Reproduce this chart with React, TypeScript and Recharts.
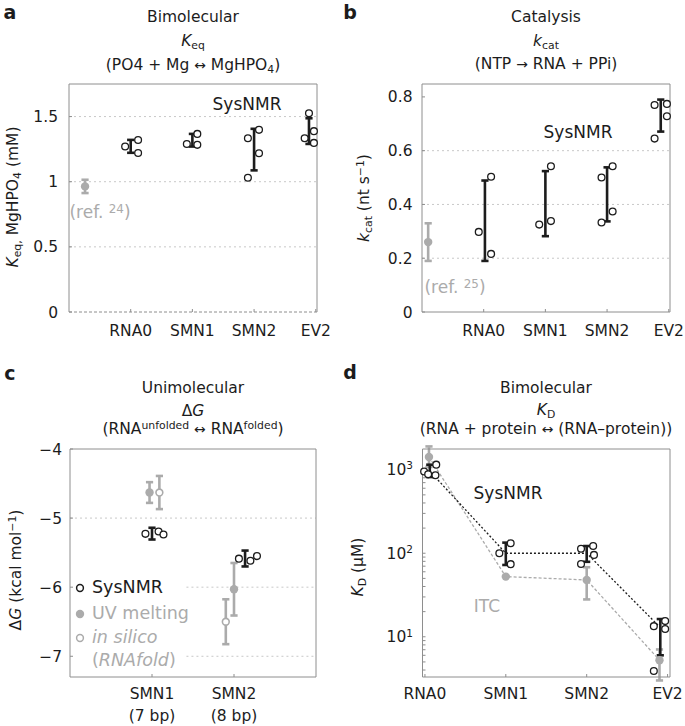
import React from "react";
import { ComposedChart, Scatter, XAxis, YAxis, ErrorBar, ReferenceLine } from "recharts";

const FONT = '"DejaVu Sans", "Liberation Sans", Arial, sans-serif';
const INK = "#1c1c1c";
const GREY = "#ababab";
const FRAME = "#8e8e8e";
const GRID = "#c8c8c8";
const TICK_PX = 15.5;

// a — MgHPO4 equilibrium constant (mM)
const keqCats = ["RNA0", "SMN1", "SMN2", "EV2"];
const keqReps = [
  [1.27, 1.32, 1.22],
  [1.29, 1.367, 1.283],
  [1.334, 1.398, 1.219, 1.031],
  [1.526, 1.388, 1.334, 1.298],
];
const keqLo = [1.222, 1.27, 1.087, 1.29];
const keqHi = [1.321, 1.367, 1.406, 1.487];
const keqLit = { mid: 0.964, lo: 0.913, hi: 1.015 };
const keqTicks = [0, 0.5, 1, 1.5];
const keqGrid = [0.5, 1, 1.5];

// b — polymerase kcat (nt/s)
const kcatReps = [
  [0.298, 0.503, 0.216],
  [0.325, 0.338, 0.542],
  [0.5, 0.333, 0.374, 0.542],
  [0.77, 0.645, 0.774, 0.728],
];
const kcatLo = [0.19, 0.282, 0.337, 0.671];
const kcatHi = [0.489, 0.524, 0.538, 0.79];
const kcatLit = { mid: 0.26, lo: 0.19, hi: 0.33 };
const kcatTicks = [0, 0.2, 0.4, 0.6, 0.8];
const kcatGrid = [0.2, 0.4, 0.6];

// c — folding free energy (kcal/mol)
const dgCats = ["SMN1", "SMN2"];
const dgBp = ["(7 bp)", "(8 bp)"];
const dgReps = [
  [-5.228, -5.194, -5.238],
  [-5.587, -5.617, -5.55],
];
const dgLo = [-5.31, -5.7];
const dgHi = [-5.14, -5.47];
const uvMid = [-4.63, -6.03];
const uvErr = [0.15, 0.38];
const foldMid = [-4.63, -6.5];
const foldErr = [0.24, 0.325];
const dgTicks = [-7, -6, -5, -4];

// d — RNA–protein KD (µM)
const kdCats = ["RNA0", "SMN1", "SMN2", "EV2"];
const kdReps = [
  [950, 880, 1150, 860],
  [100, 132, 74],
  [113, 74.5, 122, 95.5],
  [13.4, 15.4, 12.4, 3.9],
];
const kdLo = [817, 72.4, 79, 6.0];
const kdHi = [1148, 134, 122, 16.3];
const kdMean = [960, 100, 100, 12.9];
const itcMid = [1420, 52.5, 47.9, 5.25];
const itcLo = [1080, 52.5, 28, 3.0];
const itcHi = [1900, 52.5, 68, 7.05];
const kdTicks = [4, 5, 6, 7, 8, 9, 10, 20, 30, 40, 50, 60, 70, 80, 90, 100, 200, 300, 400, 500, 600, 700, 800, 900, 1000];

// placement along x: category n sits at x = n, replicates are nudged sideways
const keqX = [1, 2, 3, 3.89];
const keqDx = [[-0.09, 0.12, 0.12], [-0.09, 0.08, 0.08], [-0.1, 0.08, 0.08, -0.1], [0, 0.08, -0.07, 0.08]];
const keqLitX = 0.26;
const kcatX = [1.02, 2, 3, 3.87];
const kcatDx = [[-0.1, 0.1, 0.1], [-0.1, 0.09, 0.09], [-0.09, -0.09, 0.09, 0.09], [-0.1, -0.1, 0.1, 0.1]];
const kcatLitX = 0.1;
const dgX = [1, 2.135];
const dgDx = [[-0.08, 0.08, 0.14], [-0.075, 0.065, 0.145]];
const uvX = [0.97, 2];
const foldX = [1.09, 1.9];
const kdX = [1.06, 2, 3, 3.91];
const kdDx = [[-0.07, -0.02, 0.08, 0.07], [-0.08, 0.06, 0.06], [-0.07, -0.07, 0.08, 0.09], [-0.08, 0.06, 0.06, -0.08]];
const itcX = [1.05, 2, 3, 3.9];

type Pt = { x: number; y: number; err?: number[] };

const replicates = (vals: number[][], xs: number[], dx: number[][]): Pt[] =>
  vals.flatMap((row, i) => row.map((v, j) => ({ x: xs[i] + dx[i][j], y: v })));

const rangeBars = (lo: number[], hi: number[], xs: number[]): Pt[] =>
  lo.map((l, i) => {
    const m = (l + hi[i]) / 2;
    return { x: xs[i], y: m, err: [m - l, hi[i] - m] };
  });

const symBars = (mid: number[], err: number[], xs: number[]): Pt[] =>
  mid.map((m, i) => ({ x: xs[i], y: m, err: [err[i], err[i]] }));

const points = (ys: number[], xs: number[]): Pt[] => ys.map((y, i) => ({ x: xs[i], y }));

const noMark = () => <g />;
const ring = (color: string, w = 1.3) => (p: any) => (
  <circle cx={p.cx} cy={p.cy} r={3.4} fill="#fff" stroke={color} strokeWidth={w} />
);
const disc = (color: string) => (p: any) => <circle cx={p.cx} cy={p.cy} r={4.2} fill={color} />;

const frameLine = { stroke: FRAME, strokeWidth: 1 };
const tickFont = { fontSize: TICK_PX, fill: INK, fontFamily: FONT };

const errorBars = (key: string, data: Pt[], color: string) => (
  <Scatter key={key} data={data} shape={noMark} isAnimationActive={false}>
    <ErrorBar dataKey="err" direction="y" width={3.6} stroke={color} strokeWidth={2.6} isAnimationActive={false} />
  </Scatter>
);

// top and right edges of the box, with inward ticks
const frameAxes = (xDomain: number[], xTicks: number[], yDomain: number[], yTicks: number[], log = false) => [
  <XAxis key="fx" xAxisId="frame" orientation="top" type="number" domain={xDomain} ticks={xTicks} interval={0}
    tick={false} height={1} tickSize={-3} axisLine={frameLine} tickLine={frameLine} allowDataOverflow />,
  <YAxis key="fy" yAxisId="frame" orientation="right" type="number" scale={log ? "log" : "auto"} domain={yDomain}
    ticks={yTicks} interval={0} tick={false} width={1} tickSize={-3} axisLine={frameLine} tickLine={frameLine} allowDataOverflow />,
];

const minusFmt = (v: number) => (v < 0 ? "\u2212" + -v : String(v));

const bpTick = (p: any) => {
  const i = p.payload.value - 1;
  return (
    <text x={p.x} y={p.y} textAnchor="middle" fontSize={TICK_PX} fill={INK} fontFamily={FONT}>
      <tspan x={p.x} dy="0.71em">{dgCats[i]}</tspan>
      <tspan x={p.x} dy="1.45em">{dgBp[i]}</tspan>
    </text>
  );
};

const decadeTick = (p: any) => {
  const e = Math.log10(p.payload.value);
  if (Math.abs(e - Math.round(e)) > 1e-9) return <g />;
  return (
    <text x={p.x} y={p.y} dy="0.355em" textAnchor="end" fontSize={TICK_PX} fill={INK} fontFamily={FONT}>
      10<tspan dy="-0.55em" fontSize={10.5}>{Math.round(e)}</tspan>
    </text>
  );
};

const Sub = ({ children }: { children: React.ReactNode }) => (
  <span style={{ fontSize: "0.7em", position: "relative", top: "0.32em" }}>{children}</span>
);
const Sup = ({ children }: { children: React.ReactNode }) => (
  <span style={{ fontSize: "0.7em", position: "relative", top: "-0.45em" }}>{children}</span>
);
const Arrow = ({ children }: { children: React.ReactNode }) => <span style={{ fontSize: "0.9em" }}>{children}</span>;

type TxtProps = {
  x: number;
  y: number;
  size?: number;
  color?: string;
  anchor?: "start" | "middle";
  rotate?: boolean;
  bold?: boolean;
  children: React.ReactNode;
};

function Txt({ x, y, size = 15.5, color = INK, anchor = "middle", rotate = false, bold = false, children }: TxtProps) {
  const shift = anchor === "middle" ? "-50%" : "0";
  const transform = rotate ? "translate(-50%, -50%) rotate(-90deg)" : `translate(${shift}, -50%)`;
  return (
    <div style={{ position: "absolute", left: x, top: y, transform, fontSize: size, lineHeight: 1, color, whiteSpace: "nowrap", fontWeight: bold ? 700 : 400 }}>
      {children}
    </div>
  );
}

const Dot = ({ x, y, filled, color }: { x: number; y: number; filled: boolean; color: string }) => (
  <svg width={12} height={12} style={{ position: "absolute", left: x - 6, top: y - 6 }}>
    {filled ? <circle cx={6} cy={6} r={4.2} fill={color} /> : <circle cx={6} cy={6} r={3.4} fill="#fff" stroke={color} strokeWidth={1.5} />}
  </svg>
);

function Panel({ left, top, width, height, margin, children }: any) {
  return (
    <div style={{ position: "absolute", left, top }}>
      <ComposedChart width={width} height={height} margin={margin}>
        {children}
      </ComposedChart>
    </div>
  );
}

export default function App() {
  const catName = (v: number) => keqCats[v - 1] ?? "";
  return (
    <div style={{ position: "relative", width: 685, height: 726, background: "#fff", fontFamily: FONT, color: INK }}>
      <style>{"body{margin:0}"}</style>

      {/* a */}
      <Panel left={0} top={0} width={342} height={350} margin={{ top: 83, right: 24, bottom: 8, left: 19 }}>
        <XAxis type="number" dataKey="x" domain={[0, 4.02]} ticks={[1, 2, 3, 4]} interval={0} tickFormatter={catName}
          height={30} tickSize={-3} tickMargin={16} tick={tickFont} axisLine={{ ...frameLine, strokeDasharray: "3 2" }} tickLine={frameLine} />
        <YAxis type="number" dataKey="y" domain={[0, 1.75]} ticks={keqTicks} interval={0} width={50}
          tickSize={-3} tickMargin={14} tick={tickFont} axisLine={frameLine} tickLine={frameLine} />
        {frameAxes([0, 4.02], [1, 2, 3, 4], [0, 1.75], keqTicks)}
        {keqGrid.map((v) => <ReferenceLine key={v} y={v} stroke={GRID} strokeDasharray="2 3" />)}
        {errorBars("lit", [{ x: keqLitX, y: keqLit.mid, err: [keqLit.mid - keqLit.lo, keqLit.hi - keqLit.mid] }], GREY)}
        <Scatter data={[{ x: keqLitX, y: keqLit.mid }]} shape={disc(GREY)} isAnimationActive={false} />
        {errorBars("nmr", rangeBars(keqLo, keqHi, keqX), INK)}
        <Scatter data={replicates(keqReps, keqX, keqDx)} shape={ring(INK)} isAnimationActive={false} />
      </Panel>

      {/* b */}
      <Panel left={342} top={0} width={343} height={350} margin={{ top: 83, right: 14, bottom: 8, left: 30 }}>
        <XAxis type="number" dataKey="x" domain={[0, 4.02]} ticks={[1, 2, 3, 4]} interval={0} tickFormatter={catName}
          height={30} tickSize={-3} tickMargin={16} tick={tickFont} axisLine={frameLine} tickLine={frameLine} />
        <YAxis type="number" dataKey="y" domain={[0, 0.848]} ticks={kcatTicks} interval={0} width={50}
          tickSize={-3} tickMargin={12.5} tick={tickFont} axisLine={frameLine} tickLine={frameLine} />
        {frameAxes([0, 4.02], [1, 2, 3, 4], [0, 0.848], kcatTicks)}
        {kcatGrid.map((v) => <ReferenceLine key={v} y={v} stroke={GRID} strokeDasharray="2 3" />)}
        {errorBars("lit", [{ x: kcatLitX, y: kcatLit.mid, err: [kcatLit.mid - kcatLit.lo, kcatLit.hi - kcatLit.mid] }], GREY)}
        <Scatter data={[{ x: kcatLitX, y: kcatLit.mid }]} shape={disc(GREY)} isAnimationActive={false} />
        {errorBars("nmr", rangeBars(kcatLo, kcatHi, kcatX), INK)}
        <Scatter data={replicates(kcatReps, kcatX, kcatDx)} shape={ring(INK)} isAnimationActive={false} />
      </Panel>

      {/* c */}
      <Panel left={0} top={360} width={342} height={366} margin={{ top: 88, right: 25, bottom: 9, left: 20 }}>
        <XAxis type="number" dataKey="x" domain={[0, 3]} ticks={[1, 2]} interval={0} tick={bpTick}
          height={40} tickSize={-3} tickMargin={14} axisLine={frameLine} tickLine={frameLine} />
        <YAxis type="number" dataKey="y" domain={[-7.3, -4]} ticks={dgTicks} interval={0} width={50} tickFormatter={minusFmt}
          tickSize={-3} tickMargin={11} tick={tickFont} axisLine={frameLine} tickLine={frameLine} />
        {frameAxes([0, 3], [1, 2], [-7.3, -4], dgTicks)}
        <ReferenceLine y={-5} stroke={GRID} strokeDasharray="2 3" />
        <ReferenceLine segment={[{ x: 1.42, y: -6 }, { x: 3, y: -6 }]} stroke={GRID} strokeDasharray="2 3" />
        <ReferenceLine segment={[{ x: 1.42, y: -7 }, { x: 3, y: -7 }]} stroke={GRID} strokeDasharray="2 3" />
        {errorBars("uv", symBars(uvMid, uvErr, uvX), GREY)}
        <Scatter data={points(uvMid, uvX)} shape={disc(GREY)} isAnimationActive={false} />
        {errorBars("fold", symBars(foldMid, foldErr, foldX), GREY)}
        <Scatter data={points(foldMid, foldX)} shape={ring(GREY, 1.6)} isAnimationActive={false} />
        {errorBars("nmr", rangeBars(dgLo, dgHi, dgX), INK)}
        <Scatter data={replicates(dgReps, dgX, dgDx)} shape={ring(INK)} isAnimationActive={false} />
      </Panel>

      {/* d */}
      <Panel left={342} top={360} width={343} height={366} margin={{ top: 88, right: 14, bottom: 19, left: 30.5 }}>
        <XAxis type="number" dataKey="x" domain={[0.97, 4.03]} ticks={[1, 2, 3, 4]} interval={0} tickFormatter={(v: number) => kdCats[v - 1] ?? ""}
          height={30} tickSize={-3} tickMargin={14} tick={tickFont} axisLine={frameLine} tickLine={frameLine} />
        <YAxis type="number" dataKey="y" scale="log" domain={[3.3, 1770]} allowDataOverflow ticks={kdTicks} interval={0} width={50}
          tickSize={-3} tickMargin={12.5} tick={decadeTick} axisLine={frameLine} tickLine={frameLine} />
        {frameAxes([0.97, 4.03], [1, 2, 3, 4], [3.3, 1770], kdTicks, true)}
        <Scatter data={points(itcMid, itcX)} shape={noMark} line={{ stroke: GREY, strokeWidth: 1.3, strokeDasharray: "3 2" }} isAnimationActive={false} />
        <Scatter data={points(kdMean, kdX)} shape={noMark} line={{ stroke: INK, strokeWidth: 1.3, strokeDasharray: "2 2" }} isAnimationActive={false} />
        {errorBars("itc", rangeBars(itcLo, itcHi, itcX), GREY)}
        <Scatter data={points(itcMid, itcX)} shape={disc(GREY)} isAnimationActive={false} />
        {errorBars("nmr", rangeBars(kdLo, kdHi, kdX), INK)}
        <Scatter data={replicates(kdReps, kdX, kdDx)} shape={ring(INK)} isAnimationActive={false} />
      </Panel>

      {/* panel letters */}
      <Txt x={10} y={12} size={19} bold>a</Txt>
      <Txt x={350} y={12} size={19} bold>b</Txt>
      <Txt x={10} y={373} size={19} bold>c</Txt>
      <Txt x={350} y={372} size={19} bold>d</Txt>

      {/* titles */}
      <Txt x={193} y={18}>Bimolecular</Txt>
      <Txt x={193} y={42}><i>K</i><Sub>eq</Sub></Txt>
      <Txt x={193} y={66}>(PO4 + Mg <Arrow>↔</Arrow> MgHPO<Sub>4</Sub>)</Txt>

      <Txt x={546} y={18}>Catalysis</Txt>
      <Txt x={546} y={42}><i>k</i><Sub>cat</Sub></Txt>
      <Txt x={546} y={65}>(NTP <Arrow>→</Arrow> RNA + PPi)</Txt>

      <Txt x={193} y={389}>Unimolecular</Txt>
      <Txt x={193} y={412}>Δ<i>G</i></Txt>
      <Txt x={193} y={430}>(RNA<Sup>unfolded</Sup> <Arrow>↔</Arrow> RNA<Sup>folded</Sup>)</Txt>

      <Txt x={546} y={389}>Bimolecular</Txt>
      <Txt x={546} y={411}><i>K</i><Sub>D</Sub></Txt>
      <Txt x={546} y={430}>(RNA + protein <Arrow>↔</Arrow> (RNA–protein))</Txt>

      {/* axis titles */}
      <Txt x={14} y={197} rotate><i>K</i><Sub>eq,</Sub> MgHPO<Sub>4</Sub> (mM)</Txt>
      <Txt x={365} y={198} rotate><i>k</i><Sub>cat</Sub> (nt s<Sup>−1</Sup>)</Txt>
      <Txt x={17} y={570} rotate>Δ<i>G</i> (kcal mol<Sup>−1</Sup>)</Txt>
      <Txt x={359} y={567} rotate><i>K</i><Sub>D</Sub> (μM)</Txt>

      {/* in-plot annotations */}
      <Txt x={247} y={104} size={17}>SysNMR</Txt>
      <Txt x={100} y={212} size={17} color={GREY}>(ref. <Sup>24</Sup>)</Txt>
      <Txt x={578} y={132} size={17}>SysNMR</Txt>
      <Txt x={455} y={287} size={17} color={GREY}>(ref. <Sup>25</Sup>)</Txt>
      <Txt x={508} y={493} size={17}>SysNMR</Txt>
      <Txt x={487} y={606} size={17} color={GREY}>ITC</Txt>

      {/* legend for c */}
      <Dot x={80} y={588} filled={false} color={INK} />
      <Txt x={92} y={588} size={17.5} anchor="start">SysNMR</Txt>
      <Dot x={80} y={614} filled color={GREY} />
      <Txt x={92} y={614} size={17.5} anchor="start" color={GREY}>UV melting</Txt>
      <Dot x={80} y={638} filled={false} color={GREY} />
      <Txt x={92} y={638} size={17.5} anchor="start" color={GREY}><i>in silico</i></Txt>
      <Txt x={92} y={661} size={17.5} anchor="start" color={GREY}>(<i>RNAfold</i>)</Txt>
    </div>
  );
}
